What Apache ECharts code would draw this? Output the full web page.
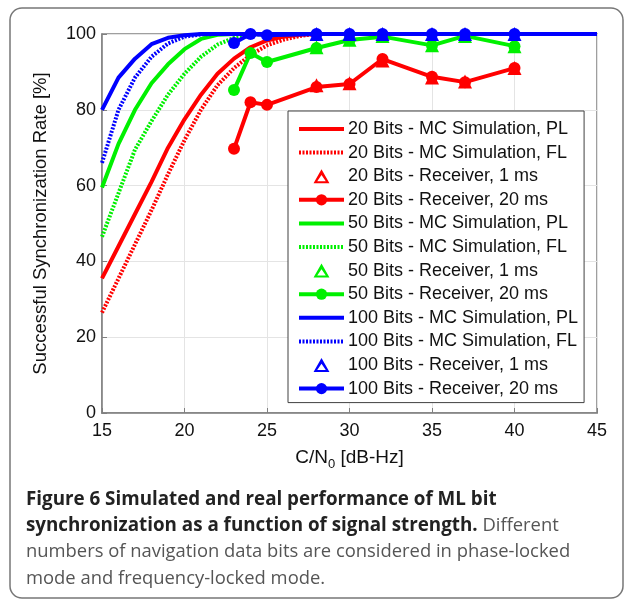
<!DOCTYPE html>
<html>
<head>
<meta charset="utf-8">
<script src="https://cdn.jsdelivr.net/npm/echarts@6/dist/echarts.min.js"></script>
<style>
  html, body { margin: 0; padding: 0; background: #fff; }
  #chart { width: 627px; height: 600px; }
</style>
</head>
<body>
<div id="chart"></div>
<script>
// MC simulation curves, x = C/N0 in dB-Hz
const simX = [15, 16, 17, 18, 19, 20, 21, 22, 23, 24, 25, 26, 27, 28, 30, 35, 40, 45];
const red_PL = [35.5, 44, 52.5, 61, 70, 77.5, 84, 89.5, 93.5, 96.5, 98.3, 99.3, 99.8, 100, 100, 100, 100, 100];
const red_FL = [26.5, 35.5, 44.5, 53.5, 63, 72, 80, 86.5, 91, 94.5, 97, 98.5, 99.5, 100, 100, 100, 100, 100];
const green_PL = [59.5, 71, 80, 87, 92, 96, 98.7, 99.8, 100, 100, 100, 100, 100, 100, 100, 100, 100, 100];
const green_FL = [46.5, 58, 69.5, 77, 84, 89.5, 94, 97.2, 99, 99.8, 100, 100, 100, 100, 100, 100, 100, 100];
const blue_PL = [80, 88.5, 93.5, 97.3, 99, 99.7, 100, 100, 100, 100, 100, 100, 100, 100, 100, 100, 100, 100];
const blue_FL = [66, 80, 88.5, 94, 97.5, 99.3, 99.9, 100, 100, 100, 100, 100, 100, 100, 100, 100, 100, 100];

// receiver measurements
const rx20X = [23, 24, 25, 28, 30, 32, 35, 37, 40];
const red_20ms = [69.7, 82, 81.3, 86, 86.8, 93.4, 88.7, 87.3, 91];
const green_20ms = [85.2, 95, 92.6, 96.3, 98.4, 99.3, 97, 99.5, 96.8];
const blue_20ms = [97.6, 100, 99.7, 100, 100, 100, 100, 100, 100];

const rx1X = [28, 30, 32, 35, 37, 40];
const red_1ms = [86.5, 87, 93, 88.5, 87.5, 91];
const green_1ms = [96.5, 98.5, 99.5, 97, 99.5, 96.8];
const blue_1ms = [100, 100, 100, 100, 100, 100];

const xTicks = [15, 20, 25, 30, 35, 40, 45];
const yTicks = [0, 20, 40, 60, 80, 100];

const RED = '#ff0000', GREEN = '#00f000', BLUE = '#0000ff';
// hollow triangle for the legend (outer cw, inner ccw -> hole)
const HOLLOW_TRI = 'path://M50,0 L100,88 L0,88 Z M50,36 L23,75 L77,75 Z';
const DOTTED = [2, 1.5];

const pairs = (xs, ys) => xs.map((x, i) => [x, ys[i]]);

function simLine(name, color, ys, dotted) {
  return {
    name: name, type: 'line', data: pairs(simX, ys),
    showSymbol: false, symbol: 'none', z: 2,
    lineStyle: { color: color, width: 4, type: dotted ? DOTTED : 'solid' },
    itemStyle: { color: color }
  };
}
function rx20(name, color, ys) {
  return {
    name: name, type: 'line', data: pairs(rx20X, ys),
    symbol: 'circle', symbolSize: 12, z: 3,
    lineStyle: { color: color, width: 4 },
    itemStyle: { color: color }
  };
}
function rx1(name, color, ys) {
  return {
    name: name, type: 'scatter', data: pairs(rx1X, ys),
    symbol: 'triangle', symbolSize: 14, z: 4,
    itemStyle: { color: color, opacity: 1 }
  };
}

const series = [
  simLine('20 Bits - MC Simulation, PL', RED, red_PL, false),
  simLine('20 Bits - MC Simulation, FL', RED, red_FL, true),
  rx1('20 Bits - Receiver, 1 ms', RED, red_1ms),
  rx20('20 Bits - Receiver, 20 ms', RED, red_20ms),
  simLine('50 Bits - MC Simulation, PL', GREEN, green_PL, false),
  simLine('50 Bits - MC Simulation, FL', GREEN, green_FL, true),
  rx1('50 Bits - Receiver, 1 ms', GREEN, green_1ms),
  rx20('50 Bits - Receiver, 20 ms', GREEN, green_20ms),
  simLine('100 Bits - MC Simulation, PL', BLUE, blue_PL, false),
  simLine('100 Bits - MC Simulation, FL', BLUE, blue_FL, true),
  rx1('100 Bits - Receiver, 1 ms', BLUE, blue_1ms),
  rx20('100 Bits - Receiver, 20 ms', BLUE, blue_20ms)
];

const legendData = series.map(s => {
  if (s.type === 'scatter') return { name: s.name, icon: HOLLOW_TRI };
  if (s.symbol === 'none') {
    return {
      name: s.name,
      itemStyle: { color: 'rgba(0,0,0,0)', borderWidth: 0, opacity: 0 },
      lineStyle: { color: s.lineStyle.color, width: 4, type: s.lineStyle.type, opacity: 1 }
    };
  }
  return { name: s.name, lineStyle: { color: s.lineStyle.color, width: 4 } };
});

const chart = echarts.init(document.getElementById('chart'));
const FONT = 'Liberation Sans';
const CAP = 'Open Sans';

chart.setOption({
  animation: false,
  backgroundColor: '#fff',
  textStyle: { fontFamily: FONT },
  grid: { left: 102, right: 30, top: 34, bottom: 187, show: true, borderColor: '#808080', borderWidth: 1.5, backgroundColor: 'transparent' },
  legend: {
    orient: 'vertical', left: 288, top: 111,
    padding: [9, 6, 5, 9],
    itemWidth: 45, itemHeight: 14, itemGap: 5.6,
    backgroundColor: '#fff', borderColor: '#404040', borderWidth: 1,
    textStyle: { fontFamily: FONT, fontSize: 18, color: '#111', padding: [0, 0, 0, -1] },
    data: legendData
  },
  xAxis: {
    type: 'value', min: 15, max: 45, interval: 5,
    name: '{a|C/N}{s|0}{a| [dB-Hz]}', nameLocation: 'middle', nameGap: 31,
    nameTextStyle: {
      rich: {
        a: { fontFamily: FONT, fontSize: 19, color: '#111' },
        s: { fontFamily: FONT, fontSize: 13, color: '#111', padding: [14, 0, 0, 0] }
      }
    },
    axisLine: { show: true, lineStyle: { color: '#808080', width: 1.5 } },
    axisTick: { show: true, inside: true, length: 5, lineStyle: { color: '#808080' } },
    axisLabel: { fontFamily: FONT, fontSize: 18, color: '#111', margin: 9,
      formatter: v => xTicks.includes(v) ? String(v) : '' },
    splitLine: { show: true, lineStyle: { color: '#e4e4e4', width: 1 } }
  },
  yAxis: {
    type: 'value', min: 0, max: 100, interval: 20,
    name: 'Successful Synchronization Rate [%]', nameLocation: 'middle', nameGap: 52,
    nameTextStyle: { fontFamily: FONT, fontSize: 18.5, color: '#111' },
    axisLine: { show: true, lineStyle: { color: '#808080', width: 1.5 } },
    axisTick: { show: true, inside: true, length: 5, lineStyle: { color: '#808080' } },
    axisLabel: { fontFamily: FONT, fontSize: 18, color: '#111', margin: 6,
      formatter: v => yTicks.includes(v) ? String(v) : '' },
    splitLine: { show: true, lineStyle: { color: '#e4e4e4', width: 1 } }
  },
  graphic: [
    {
      type: 'rect', z: -10, silent: true,
      shape: { x: 10, y: 8, width: 613, height: 590, r: 12 },
      style: { fill: 'none', stroke: '#777', lineWidth: 1.5 }
    },
    {
      type: 'text', left: 26, top: 486, z: 10,
      style: {
        text: '{b|Figure 6 Simulated and real performance of ML bit}\n' +
              '{b|synchronization as a function of signal strength.}{r| Different}\n' +
              '{r|numbers of navigation data bits are considered in phase-locked}\n' +
              '{r|mode and frequency-locked mode.}',
        lineHeight: 26.5,
        rich: {
          b: { fontFamily: CAP, fontSize: 18.8, fontWeight: 'bold', fill: '#222', lineHeight: 26.5 },
          r: { fontFamily: CAP, fontSize: 18.4, fontWeight: 'normal', fill: '#555', lineHeight: 26.5 }
        }
      }
    }
  ],
  series: series
});
</script>
</body>
</html>
